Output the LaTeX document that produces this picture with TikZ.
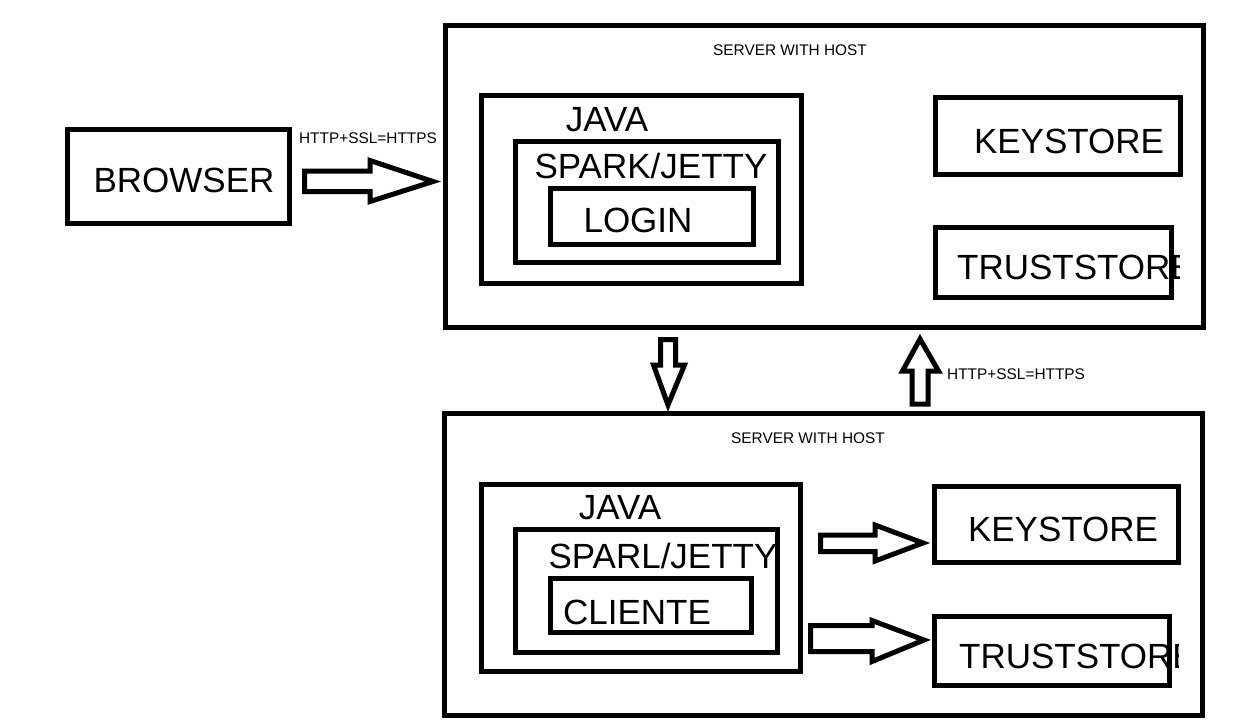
\documentclass[tikz,border=0pt]{standalone}
\usepackage{fontspec}
\setmainfont{Liberation Sans}
\begin{document}
\begin{tikzpicture}[x=1pt,y=-1pt,
  box/.style={draw=black,line width=5pt,inner sep=0pt,fill=none},
  big/.style={inner sep=0pt,anchor=base,font=\fontsize{35}{40}\selectfont},
  bigw/.style={inner sep=0pt,anchor=base west,font=\fontsize{35}{40}\selectfont},
  small/.style={inner sep=0pt,anchor=base,font=\fontsize{15.4}{18}\selectfont},
  smallw/.style={inner sep=0pt,anchor=base west,font=\fontsize{15.4}{18}\selectfont},
  blockarrow/.style={draw=black,line width=5pt,fill=white,line join=miter}]
\useasboundingbox[fill=white] (0,0) rectangle (1260,726);

% browser
\node[box,minimum width=222pt,minimum height=94pt] (browser) at (178.5,176.5) {};
\node[big] (browsert) at (184,192) {BROWSER};

% top server
\node[box,minimum width=758pt,minimum height=302pt] (srv1) at (824.5,176.5) {};
\node[small] (srv1t) at (790,55.5) {SERVER WITH HOST};
\node[box,minimum width=320pt,minimum height=188pt] (java1) at (641.5,189.5) {};
\node[big] (java1t) at (607,131) {JAVA};
\node[box,minimum width=263pt,minimum height=121pt] (spark1) at (647,202) {};
\node[big] (spark1t) at (651,178) {SPARK/JETTY};
\node[box,minimum width=203pt,minimum height=56pt] (login) at (652,216.5) {};
\node[big] (logint) at (638,232) {LOGIN};
\node[box,minimum width=245pt,minimum height=77pt] (key1) at (1058,136) {};
\node[big] (key1t) at (1069,153) {KEYSTORE};
\begin{scope}
  \clip (930,220) rectangle (1179,305);
  \node[bigw] (trust1t) at (957,279) {TRUSTSTORE};
\end{scope}
\node[box,minimum width=236pt,minimum height=70pt] (trust1) at (1053.5,262.5) {};

% bottom server
\node[box,minimum width=758pt,minimum height=302pt] (srv2) at (823.5,564.5) {};
\node[small] (srv2t) at (808,443.5) {SERVER WITH HOST};
\node[box,minimum width=319pt,minimum height=187pt] (java2) at (641,578) {};
\node[big] (java2t) at (620,519) {JAVA};
\node[box,minimum width=262pt,minimum height=123pt] (spark2) at (646.5,591) {};
\node[big] (spark2t) at (663,568) {SPARL/JETTY};
\node[box,minimum width=201pt,minimum height=54pt] (cliente) at (651,605.5) {};
\node[big] (clientet) at (637,624) {CLIENTE};
\node[box,minimum width=244pt,minimum height=76pt] (key2) at (1056.5,524.5) {};
\node[big] (key2t) at (1063,541) {KEYSTORE};
\begin{scope}
  \clip (929,609) rectangle (1178,693);
  \node[bigw] (trust2t) at (959,668) {TRUSTSTORE};
\end{scope}
\node[box,minimum width=235pt,minimum height=69pt] (trust2) at (1052,651) {};

% labels
\node[small] (lab1) at (368,143.5) {HTTP+SSL=HTTPS};
\node[smallw] (lab2) at (947,379.5) {HTTP+SSL=HTTPS};

% block arrows
\draw[blockarrow] (304.5,171) -- (370,171) -- (370,160.5) -- (433,181.5) -- (370,201.5) -- (370,191.5) -- (304.5,191.5) -- cycle;
\draw[blockarrow] (660.5,339.5) -- (675.5,339.5) -- (675.5,365) -- (684.5,365) -- (668,405) -- (653.5,365) -- (660.5,365) -- cycle;
\draw[blockarrow] (912,404) -- (928,404) -- (928,371) -- (938.5,371) -- (920,339) -- (902.5,371) -- (912,371) -- cycle;
\draw[blockarrow] (820.5,535) -- (875,535) -- (875,525) -- (923,543) -- (875,561) -- (875,551.5) -- (820.5,551.5) -- cycle;
\draw[blockarrow] (810.5,625.5) -- (872,625.5) -- (872,620.5) -- (924,640) -- (872,661.5) -- (872,651.5) -- (810.5,651.5) -- cycle;
\end{tikzpicture}
\end{document}
